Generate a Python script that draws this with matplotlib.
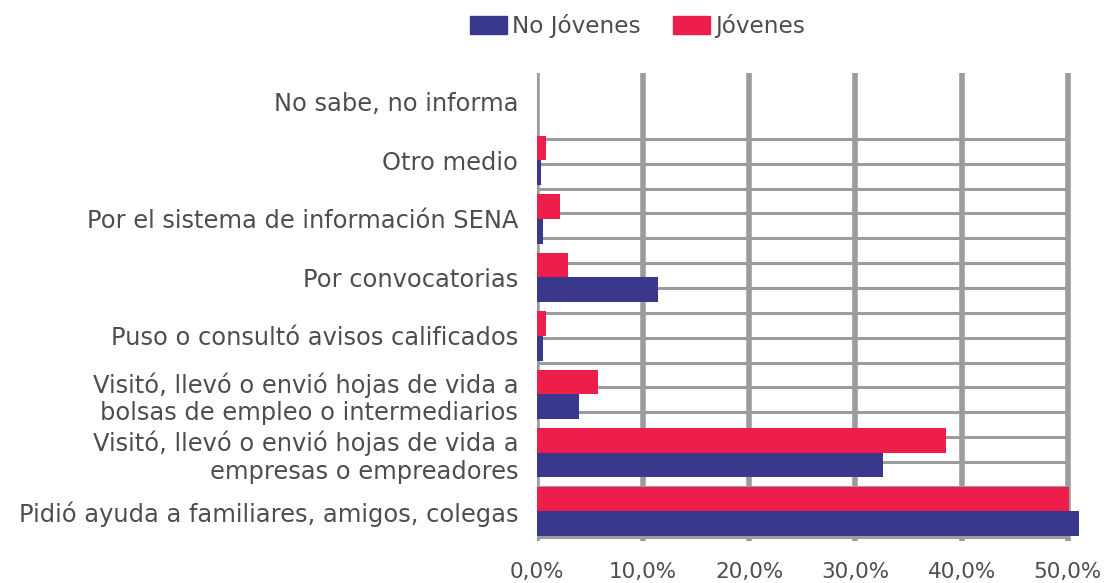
import numpy as np
import matplotlib
matplotlib.use("Agg")
import matplotlib.pyplot as plt
from matplotlib.patches import Patch

# categories listed from bottom to top of the chart
categories = [
    "Pidió ayuda a familiares, amigos, colegas",
    "Visitó, llevó o envió hojas de vida a\nempresas o empreadores",
    "Visitó, llevó o envió hojas de vida a\nbolsas de empleo o intermediarios",
    "Puso o consultó avisos calificados",
    "Por convocatorias",
    "Por el sistema de información SENA",
    "Otro medio",
    "No sabe, no informa",
]
no_jovenes = [51.1, 32.6, 4.0, 0.6, 11.4, 0.6, 0.35, 0.0]
jovenes = [50.1, 38.5, 5.7, 0.8, 2.9, 2.2, 0.8, 0.0]
x_ticks = [0, 10, 20, 30, 40, 50]
x_labels = ["0,0%", "10,0%", "20,0%", "30,0%", "40,0%", "50,0%"]

BLUE = "#3a388c"
RED = "#ed1f4a"
GRID = "#9c9c9c"
TEXT = "#4d4d4d"

plt.rcParams['font.family'] = ['DejaVu Sans']

fig = plt.figure(figsize=(11.05, 5.83), dpi=100)
ax = fig.add_axes([0.486, 0.0726, 0.4995, 0.8027])

y = np.arange(len(categories))
h = 0.42

# odd horizontal rules of the original chart, drawn behind the bars
rules = np.arange(-0.43, 6.45, 0.425)
ax.hlines(rules, 0, 50, color=GRID, lw=2.2, zorder=1)

ax.barh(y + h / 2, jovenes, height=h, color=RED, zorder=3)
ax.barh(y - h / 2, no_jovenes, height=h, color=BLUE, zorder=3)

ax.set_xlim(0, 52)
ax.set_ylim(-0.5, 7.5)
ax.set_xticks(x_ticks)
ax.set_xticklabels(x_labels, fontsize=15.5)
ax.set_yticks(y)
ax.set_yticklabels(categories, ha="right", multialignment="right", fontsize=17.4)
ax.tick_params(axis="both", length=0, colors=TEXT)
ax.tick_params(axis="y", pad=13.5)
ax.tick_params(axis="x", pad=15)
ax.grid(axis="x", color=GRID, lw=4, zorder=2)
ax.set_axisbelow(True)
for s in ax.spines.values():
    s.set_visible(False)

handles = [Patch(color=BLUE, label="No Jóvenes"), Patch(color=RED, label="Jóvenes")]
fig.legend(handles=handles, loc="center", bbox_to_anchor=(0.577, 0.955), ncol=2,
           frameon=False, handlelength=1.6, handleheight=0.8, handletextpad=0.2,
           columnspacing=1.4, labelcolor=TEXT, fontsize=16.7)

fig.savefig("out.png", dpi=100)
